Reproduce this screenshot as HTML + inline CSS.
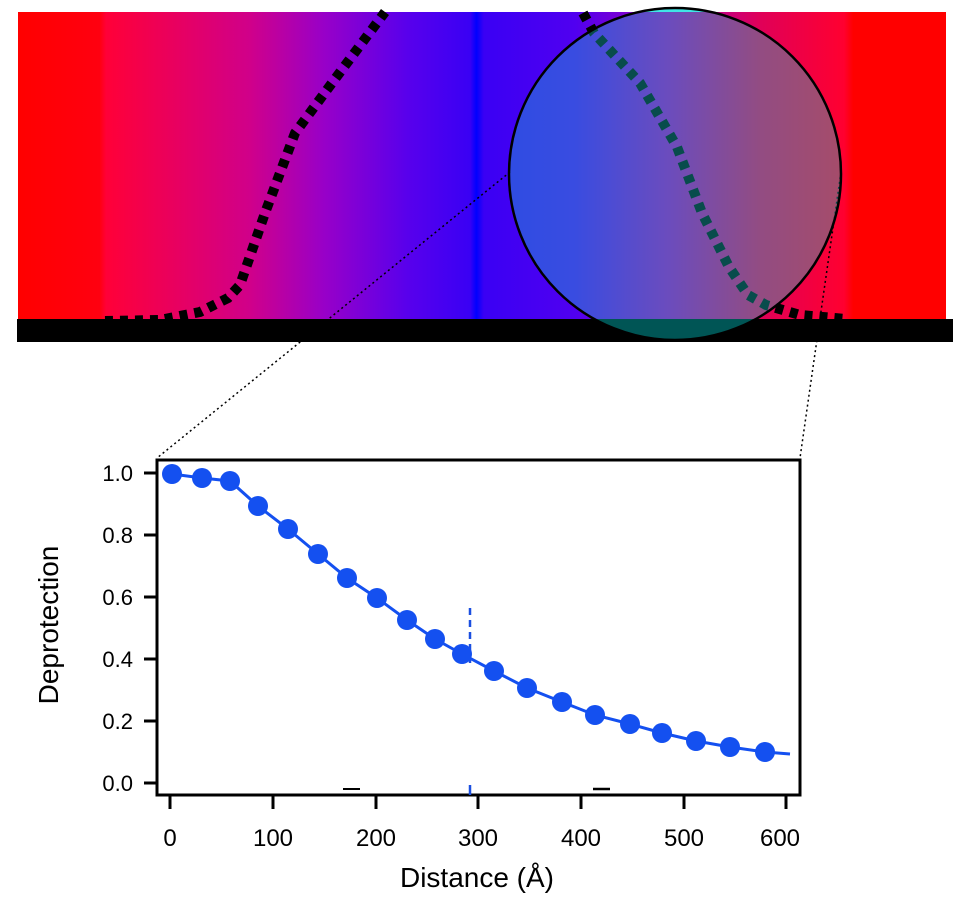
<!DOCTYPE html>
<html><head><meta charset="utf-8"><style>
html,body{margin:0;padding:0;background:#fff;width:960px;height:910px;overflow:hidden}
svg text{font-family:"Liberation Sans",Arial,sans-serif}
</style></head><body>
<svg width="960" height="910" viewBox="0 0 960 910" xmlns="http://www.w3.org/2000/svg">
<defs>
<linearGradient id="g" x1="18" y1="0" x2="946" y2="0" gradientUnits="userSpaceOnUse">
<stop offset="0" stop-color="#ff0000"/>
<stop offset="0.088" stop-color="#ff0010"/>
<stop offset="0.095" stop-color="#ff0038"/>
<stop offset="0.25" stop-color="#d0008a"/>
<stop offset="0.33" stop-color="#9800c8"/>
<stop offset="0.42" stop-color="#5800ec"/>
<stop offset="0.487" stop-color="#3a00f4"/>
<stop offset="0.494" stop-color="#0000ff"/>
<stop offset="0.502" stop-color="#3a00f4"/>
<stop offset="0.6" stop-color="#5000f0"/>
<stop offset="0.7" stop-color="#a000b8"/>
<stop offset="0.8" stop-color="#e00058"/>
<stop offset="0.89" stop-color="#ff0030"/>
<stop offset="0.9" stop-color="#ff0000"/>
<stop offset="1" stop-color="#ff0000"/>
</linearGradient>
<clipPath id="cc"><circle cx="675" cy="174" r="166"/></clipPath>
</defs>
<rect x="18" y="12" width="928" height="310" fill="url(#g)"/>
<rect x="17" y="319" width="936" height="23" fill="#000"/>
<path d="M105,321 L160,320 L200,312 L228,298 L240,285 L265,213 L295,133 L332,83 L385,12" fill="none" stroke="#000" stroke-width="10" stroke-dasharray="8,7"/>
<path d="M583,13 L594,33 L640,83 L677,147 L702,213 L729,267 L748,295 L766,305 L800,315 L846,319" fill="none" stroke="#000" stroke-width="10" stroke-dasharray="8,7"/>
<path d="M510,172 L157,458" stroke="#000" stroke-width="1.5" stroke-dasharray="2,3" fill="none"/>
<path d="M841,172 L800,458" stroke="#000" stroke-width="1.5" stroke-dasharray="2,3" fill="none"/>
<g clip-path="url(#cc)">
<rect x="500" y="0" width="360" height="12" fill="#40e6e6"/>
<rect x="500" y="12" width="360" height="310" fill="rgba(20,200,200,0.38)"/>
<rect x="500" y="319" width="360" height="23" fill="#005555"/>
</g>
<circle cx="675" cy="174" r="166" fill="none" stroke="#000" stroke-width="2.5"/>
<rect x="157" y="460" width="643" height="335" fill="none" stroke="#000" stroke-width="3"/>
<g stroke="#000" stroke-width="3">
<line x1="144" y1="473" x2="157" y2="473"/><line x1="144" y1="535" x2="157" y2="535"/>
<line x1="144" y1="597" x2="157" y2="597"/><line x1="144" y1="659" x2="157" y2="659"/>
<line x1="144" y1="721" x2="157" y2="721"/><line x1="144" y1="783" x2="157" y2="783"/>
<line x1="170" y1="795" x2="170" y2="809"/><line x1="273" y1="795" x2="273" y2="809"/>
<line x1="376" y1="795" x2="376" y2="809"/><line x1="478" y1="795" x2="478" y2="809"/>
<line x1="581" y1="795" x2="581" y2="809"/><line x1="684" y1="795" x2="684" y2="809"/>
<line x1="786" y1="795" x2="786" y2="809"/>
<line x1="343" y1="789" x2="360" y2="789" stroke-width="2"/>
<line x1="593" y1="789" x2="610" y2="789" stroke-width="2.5"/>
</g>
<line x1="470" y1="608" x2="470" y2="668" stroke="#1a4fe0" stroke-width="2.5" stroke-dasharray="7,5"/>
<line x1="470" y1="785" x2="470" y2="795" stroke="#1a4fe0" stroke-width="2.5"/>
<g font-size="22" fill="#000" text-anchor="end">
<text x="133" y="481">1.0</text><text x="133" y="543">0.8</text>
<text x="133" y="605">0.6</text><text x="133" y="667">0.4</text>
<text x="133" y="729">0.2</text><text x="133" y="791">0.0</text>
</g>
<g font-size="24" fill="#000" text-anchor="middle">
<text x="170" y="846">0</text><text x="273" y="846">100</text><text x="376" y="846">200</text>
<text x="478" y="846">300</text><text x="581" y="846">400</text><text x="684" y="846">500</text>
<text x="780" y="846">600</text>
<text x="477" y="887" font-size="28">Distance (Å)</text>
<text transform="translate(58,625) rotate(-90)" font-size="28">Deprotection</text>
</g>
<polyline fill="none" stroke="#1450f0" stroke-width="3" points="172,474 202,478 230,481 258,506 288,529 318,554 347,578 377,598 407,620 435,639 462,654 494,671 527,688 562,702 595,715 630,724 662,733 696,741 730,747 765,752 790,754"/>
<g fill="#1450f0">
<circle cx="172" cy="474" r="10"/><circle cx="202" cy="478" r="10"/><circle cx="230" cy="481" r="10"/>
<circle cx="258" cy="506" r="10"/><circle cx="288" cy="529" r="10"/><circle cx="318" cy="554" r="10"/>
<circle cx="347" cy="578" r="10"/><circle cx="377" cy="598" r="10"/><circle cx="407" cy="620" r="10"/>
<circle cx="435" cy="639" r="10"/><circle cx="462" cy="654" r="10"/><circle cx="494" cy="671" r="10"/>
<circle cx="527" cy="688" r="10"/><circle cx="562" cy="702" r="10"/><circle cx="595" cy="715" r="10"/>
<circle cx="630" cy="724" r="10"/><circle cx="662" cy="733" r="10"/><circle cx="696" cy="741" r="10"/>
<circle cx="730" cy="747" r="10"/><circle cx="765" cy="752" r="10"/>
</g>
</svg>
</body></html>
